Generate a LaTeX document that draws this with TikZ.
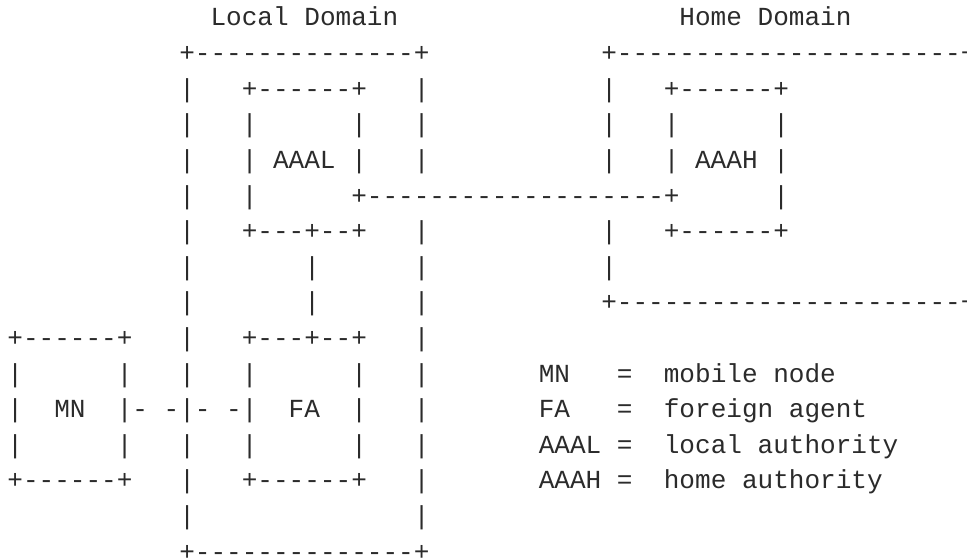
\documentclass[tikz,border=0pt]{standalone}
\usepackage{fontspec}
\newfontfamily\asciifont{Liberation Mono}[Ligatures=ResetAll]
\definecolor{ink}{HTML}{2B2B2B}
\tikzset{
  ch/.style={anchor=base west, inner sep=0pt, outer sep=0pt, text=ink,
    font=\asciifont\fontsize{19.54pt}{24pt}\selectfont},
}
\begin{document}
\begin{tikzpicture}[x=0.75pt,y=0.75pt]
\useasboundingbox (0,0) rectangle (967,-560);
\clip (0,0) rectangle (967,-560);
\fill[white] (0,0) rectangle (967,-560);

% one unit = one character cell
\begin{scope}[shift={(5.54pt,-19.5pt)}, x={(11.7225pt,0pt)}, y={(0pt,-26.7pt)}]
\node[ch] (localtitle) at (13,0) {Local Domain};
\node[ch] (hometitle) at (43,0) {Home Domain};

% local domain
\node[ch] (localtop) at (11,1) {+--------------+};
\node[ch] (localbot) at (11,15) {+--------------+};
\foreach \r in {2,...,14}{
	\node[ch] (localL\r) at (11,\r) {|};
}
\foreach \r in {2,3,4,6,7,8,9,10,11,12,13,14}{
	\node[ch] (localR\r) at (26,\r) {|};
}

% home domain
\node[ch] (hometop) at (38,1) {+----------------------+};
\node[ch] (homebot) at (38,8) {+----------------------+};
\foreach \r in {2,3,4,6,7}{
	\node[ch] (homeL\r) at (38,\r) {|};
}
\foreach \r in {2,...,7}{
	\node[ch] (homeR\r) at (61,\r) {|};
}

% AAAL
\node[ch] (aaaltop) at (15,2) {+------+};
\node[ch] (aaalbot) at (15,6) {+---+--+};
\node[ch] (aaal) at (17,4) {AAAL};
\foreach \r in {3,4,5}{
	\node[ch] (aaalL\r) at (15,\r) {|};
}
\foreach \r in {3,4}{
	\node[ch] (aaalR\r) at (22,\r) {|};
}

% AAAH
\node[ch] (aaahtop) at (42,2) {+------+};
\node[ch] (aaahbot) at (42,6) {+------+};
\node[ch] (aaah) at (44,4) {AAAH};
\foreach \r in {3,4}{
	\node[ch] (aaahL\r) at (42,\r) {|};
}
\foreach \r in {3,4,5}{
	\node[ch] (aaahR\r) at (49,\r) {|};
}

% AAAL -- AAAH
\node[ch] (aaalink) at (22,5) {+-------------------+};

% AAAL -- FA
\foreach \r in {7,8}{
	\node[ch] (falink\r) at (19,\r) {|};
}

% FA
\node[ch] (fatop) at (15,9) {+---+--+};
\node[ch] (fabot) at (15,13) {+------+};
\node[ch] (fa) at (18,11) {FA};
\foreach \r in {10,11,12}{
	\node[ch] (faL\r) at (15,\r) {|};
	\node[ch] (faR\r) at (22,\r) {|};
}

% MN
\node[ch] (mntop) at (0,9) {+------+};
\node[ch] (mnbot) at (0,13) {+------+};
\node[ch] (mn) at (3,11) {MN};
\foreach \r in {10,11,12}{
	\node[ch] (mnL\r) at (0,\r) {|};
	\node[ch] (mnR\r) at (7,\r) {|};
}
\node[ch] (mnlinkA) at (8,11) {- -};
\node[ch] (mnlinkB) at (12,11) {- -};

% legend
\foreach \r/\abbr/\desc in {10/MN/mobile node, 11/FA/foreign agent,
	12/AAAL/local authority, 13/AAAH/home authority}{
	\node[ch] (key\r) at (34,\r) {\abbr};
	\node[ch] (eq\r) at (39,\r) {=};
	\node[ch] (desc\r) at (42,\r) {\desc};
}
\end{scope}
\end{tikzpicture}
\end{document}
